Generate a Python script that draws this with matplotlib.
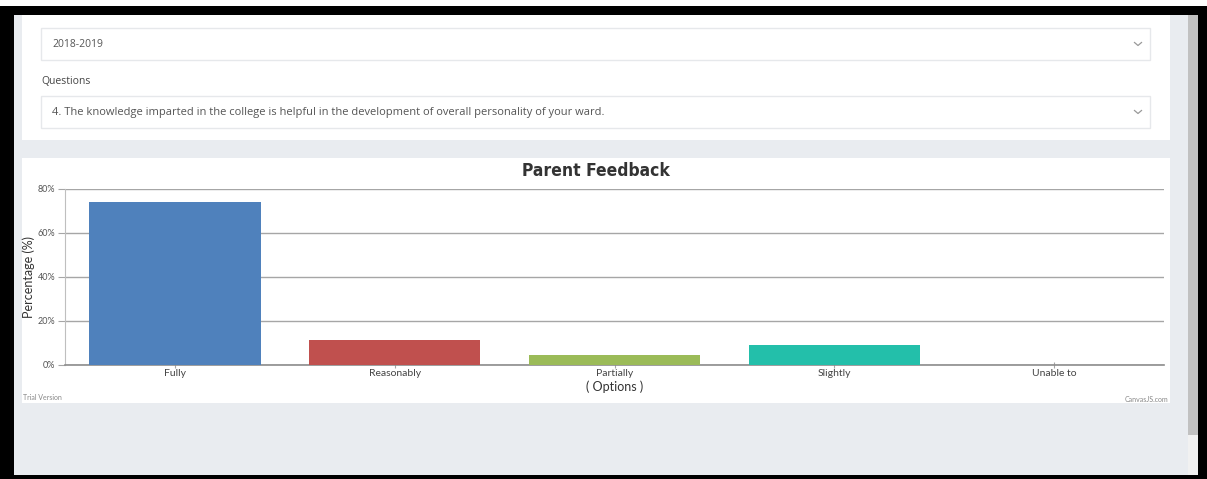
import matplotlib
matplotlib.use("Agg")
import matplotlib.pyplot as plt
from matplotlib.patches import Rectangle

# chart data
options = ["Fully", "Reasonably", "Partially", "Slightly", "Unable to"]
percent = [74.2, 11.5, 4.5, 9.1, 0.0]
bar_colors = ["#4F81BC", "#C0504E", "#9BBB58", "#23BFAA", "#8064A1"]
yticks = [0, 20, 40, 60, 80]

year_text = "2018-2019"
question_label = "Questions"
question_text = "4. The knowledge imparted in the college is helpful in the development of overall personality of your ward."

W, H = 1207, 479
fig = plt.figure(figsize=(W / 100, H / 100), dpi=100)
fig.patch.set_facecolor("black")

# page background in pixel coords
ui = fig.add_axes([0, 0, 1, 1])
ui.set_xlim(0, W)
ui.set_ylim(H, 0)
ui.axis("off")


def box(x0, y0, x1, y1, fc, ec="none", lw=0):
    ui.add_patch(Rectangle((x0, y0), x1 - x0, y1 - y0, facecolor=fc, edgecolor=ec, linewidth=lw))


box(0, 0, W, 6, "white")
box(14, 15, 1188, 475, "#e9ecf0")
box(1188, 15, 1198, 435, "#c1c1c1")
box(1188, 435, 1198, 475, "#f1f1f1")

# top card with the two selects
box(22, 15, 1170, 140, "white")
box(41, 28, 1150, 60, "white", "#e6e8eb", 1)
box(41, 96, 1150, 128, "white", "#e6e8eb", 1)
ui.text(52, 44, year_text, fontsize=7.5, color="#555555", va="center", family="Open Sans")
ui.text(41, 81, question_label, fontsize=7.5, color="#444444", va="center", family="Open Sans")
ui.text(52, 112, question_text, fontsize=8, color="#555555", va="center", family="Open Sans")
for cy in (44, 112):
    ui.plot([1134.5, 1138, 1141.5], [cy - 1.5, cy + 1.5, cy - 1.5], color="#999999", lw=0.9)

# chart card
box(22, 158, 1170, 403, "white")
ui.text(596, 171, "Parent Feedback", fontsize=12.5, fontweight="heavy", fontstretch="condensed",
        ha="center", va="center", color="#333333",
        family=["DejaVu Sans"])
ui.text(23, 397, "Trial Version", fontsize=5, color="#888888", va="center", family="Lato")
ui.text(1168, 399, "CanvasJS.com", fontsize=5, color="#888888", ha="right", va="center", family="Lato")

ax = fig.add_axes([65 / W, 1 - 365 / H, 1099 / W, 176 / H])
ax.patch.set_alpha(0)
x = list(range(len(options)))
ax.bar(x, percent, width=0.78, color=bar_colors[:len(options)], zorder=3)
ax.set_xlim(-0.5, len(options) - 0.5)
ax.set_ylim(0, 80)
ax.set_yticks(yticks)
ax.set_yticklabels([f"{v}%" for v in yticks], fontsize=6.5, color="#555555", family="Lato")
ax.set_xticks(x)
ax.set_xticklabels(options, fontsize=7.5, color="#444444", family="Lato")
ax.grid(axis="y", color="#a6a6a6", linewidth=1, zorder=0)
ax.tick_params(axis="y", length=5, color="#a6a6a6", pad=2)
ax.tick_params(axis="x", length=4, color="#a6a6a6", pad=1, direction="inout")
for side in ("top", "right"):
    ax.spines[side].set_visible(False)
ax.spines["left"].set_color("#bfbfbf")
ax.spines["bottom"].set_color("#8c8c8c")
ax.spines["bottom"].set_linewidth(1.2)
ax.set_ylabel("Percentage (%)", fontsize=9, color="#333333", family="Lato", labelpad=2)
ax.set_xlabel("( Options )", fontsize=9, color="#333333", family="Lato", labelpad=2)

fig.savefig("out.png", dpi=100, facecolor=fig.get_facecolor())
